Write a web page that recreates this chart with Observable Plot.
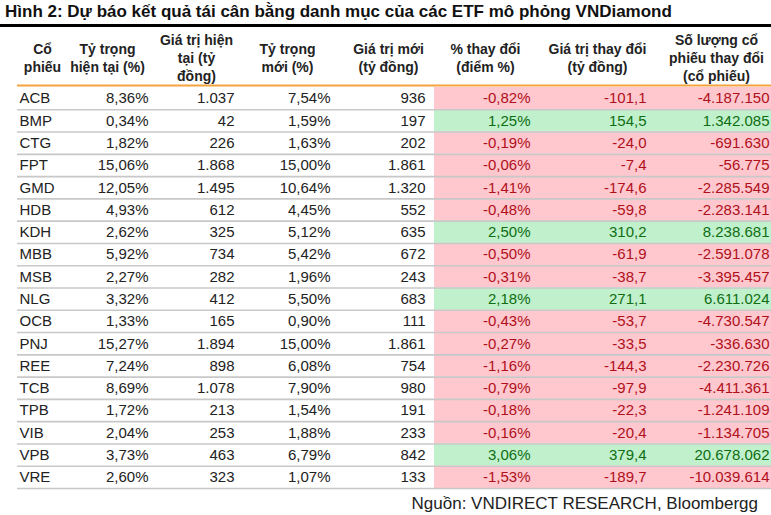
<!DOCTYPE html>
<html><head><meta charset="utf-8">
<script src="https://cdn.jsdelivr.net/npm/d3@7"></script>
<script src="https://cdn.jsdelivr.net/npm/@observablehq/plot@0.6"></script>
<style>
body{margin:0;background:#fff;font-family:"Liberation Sans",Arial,sans-serif;width:771px;overflow:hidden}
#title{height:24px;line-height:24px;font-weight:bold;font-size:17px;padding-left:5px;border-bottom:3px solid #000;color:#111;white-space:nowrap;width:766px;box-sizing:content-box}
#chart svg{display:block}
#source{width:758px;text-align:right;font-size:17px;height:28px;line-height:28px;color:#222;white-space:nowrap}
</style></head><body>
<div id="title">Hình 2: Dự báo kết quả tái cân bằng danh mục của các ETF mô phỏng VNDiamond</div>
<div id="chart"></div>
<div id="source">Nguồn: VNDIRECT RESEARCH, Bloombergg</div>
<script>
const stocks = ["ACB","BMP","CTG","FPT","GMD","HDB","KDH","MBB","MSB","NLG","OCB","PNJ","REE","TCB","TPB","VIB","VPB","VRE"];
const curWeight = [8.36,0.34,1.82,15.06,12.05,4.93,2.62,5.92,2.27,3.32,1.33,15.27,7.24,8.69,1.72,2.04,3.73,2.60];
const curValue = [1037,42,226,1868,1495,612,325,734,282,412,165,1894,898,1078,213,253,463,323];
const newWeight = [7.54,1.59,1.63,15.00,10.64,4.45,5.12,5.42,1.96,5.50,0.90,15.00,6.08,7.90,1.54,1.88,6.79,1.07];
const newValue = [936,197,202,1861,1320,552,635,672,243,683,111,1861,754,980,191,233,842,133];
const pctChange = [-0.82,1.25,-0.19,-0.06,-1.41,-0.48,2.50,-0.50,-0.31,2.18,-0.43,-0.27,-1.16,-0.79,-0.18,-0.16,3.06,-1.53];
const valueChange = [-101.1,154.5,-24.0,-7.4,-174.6,-59.8,310.2,-61.9,-38.7,271.1,-53.7,-33.5,-144.3,-97.9,-22.3,-20.4,379.4,-189.7];
const shareChange = [-4187150,1342085,-691630,-56775,-2285549,-2283141,8238681,-2591078,-3395457,6611024,-4730547,-336630,-2230726,-4411361,-1241109,-1134705,20678062,-10039614];
const headers = ["Cổ\nphiếu","Tỷ trọng\nhiện tại (%)","Giá trị hiện\ntại (tỷ\nđồng)","Tỷ trọng\nmới (%)","Giá trị mới\n(tỷ đồng)","% thay đổi\n(điểm %)","Giá trị thay đổi\n(tỷ đồng)","Số lượng cổ\nphiếu thay đổi\n(cổ phiếu)"];

const loc = d3.formatLocale({decimal: ",", thousands: ".", grouping: [3], currency: ["", ""], minus: "-"});
const fPct = v => loc.format(".2f")(v) + "%";
const fInt = loc.format(",d");
const fDec = loc.format(",.1f");

const rows = stocks.map((s, i) => ({i, s, cw: curWeight[i], cv: curValue[i], nw: newWeight[i], nv: newValue[i], pc: pctChange[i], vc: valueChange[i], sc: shareChange[i]}));

// layout (pixels)
const W = 771, LEFT = 17, SHADE_X = 434;
const headerX = [42, 107, 196, 287, 388, 485, 597, 716];
const RED_BG = "#ffc7ce", GREEN_BG = "#c0f0cc", RED_TX = "#b0101a", GREEN_TX = "#0f6e12", TX = "#222";
const cols = [
  {key: "s", x: 19, anchor: "start", fmt: d => d},
  {key: "cw", x: 148, anchor: "end", fmt: fPct},
  {key: "cv", x: 234, anchor: "end", fmt: fInt},
  {key: "nw", x: 330, anchor: "end", fmt: fPct},
  {key: "nv", x: 425, anchor: "end", fmt: fInt},
  {key: "pc", x: 530, anchor: "end", fmt: fPct, colored: true},
  {key: "vc", x: 646, anchor: "end", fmt: fDec, colored: true},
  {key: "sc", x: 769, anchor: "end", fmt: fInt, colored: true}
];

const textMarks = cols.map(c => Plot.text(rows, {
  x: () => c.x, y: d => d.i + 0.5, text: d => c.fmt(d[c.key]),
  textAnchor: c.anchor, fontSize: 15,
  fill: c.colored ? (d => d.pc > 0 ? GREEN_TX : RED_TX) : TX
}));

const chart = Plot.plot({
  width: W, height: 463,
  marginTop: 60, marginBottom: 2, marginLeft: 0, marginRight: 0,
  style: {fontFamily: "'Liberation Sans', Arial, sans-serif", background: "#fff", overflow: "visible"},
  x: {domain: [0, W], axis: null},
  y: {domain: [0, stocks.length], reverse: true, axis: null},
  marks: [
    Plot.rect(rows, {x1: () => SHADE_X, x2: () => W, y1: d => d.i, y2: d => d.i + 1, fill: d => d.pc > 0 ? GREEN_BG : RED_BG}),
    Plot.ruleY(rows, {y: d => d.i + 1, x1: () => LEFT, x2: () => W, stroke: "#c8c8c8", strokeWidth: 1.6}),
    Plot.ruleY([0], {x1: () => LEFT, x2: () => W, stroke: "#f5a33c", strokeWidth: 2, dy: -2}),
    Plot.text(headers, {x: (d, i) => headerX[i], text: d => d, frameAnchor: "top", dy: -30, lineAnchor: "middle", lineHeight: 18 / 14, fontWeight: "bold", fontSize: 14, textAnchor: "middle", fill: TX}),
    ...textMarks
  ]
});
document.getElementById("chart").appendChild(chart);
</script>
</body></html>
